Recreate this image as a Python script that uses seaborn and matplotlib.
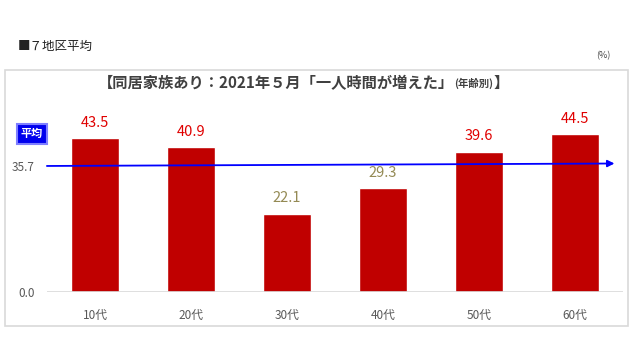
import matplotlib
matplotlib.use("Agg")
import matplotlib.pyplot as plt
import seaborn as sns
import pandas as pd
from matplotlib.patches import Rectangle

categories = ["10代", "20代", "30代", "40代", "50代", "60代"]
values = [43.5, 40.9, 22.1, 29.3, 39.6, 44.5]
average = 35.7
title_main = "【同居家族あり：2021年５月「一人時間が増えた」"
title_sub = "(年齢別)"
title_end = "】"
header = "■７地区平均"

sns.set_theme(style="white")
plt.rcParams['font.family'] = ['Noto Sans CJK JP', 'DejaVu Sans']

df = pd.DataFrame({"age": categories, "value": values})

fig = plt.figure(figsize=(6.4, 3.6), dpi=100)
ax = fig.add_axes([47/640, 68/360, 576/640, 177/360])

# outer frame
fig.patches.append(Rectangle((5/640, 34/360), 623/640, 256/360, transform=fig.transFigure,
                             fill=False, edgecolor="#d9d9d9", linewidth=1.2, zorder=0))

sns.barplot(data=df, x="age", y="value", color="#C00000", width=0.5, saturation=1, ax=ax)

ax.set_xlim(-0.5, 5.5)
ax.set_ylim(0, 50)
for s in ax.spines.values():
    s.set_visible(False)
ax.axhline(0, color="#d9d9d9", linewidth=1.2, zorder=1)
ax.set_xlabel("")
ax.set_ylabel("")
ax.set_yticks([0, average])
ax.set_yticklabels(["0.0", f"{average}"])
ax.tick_params(axis="y", length=0, pad=9, labelsize=8.5, labelcolor="#595959")
ax.tick_params(axis="x", length=0, pad=12, labelsize=8.5, labelcolor="#595959")

for i, v in enumerate(values):
    col = "#E00000" if v >= average else "#948A54"
    ax.annotate(f"{v}", (i, v), xytext=(0, 6), textcoords="offset points",
                ha="center", va="bottom", fontsize=10.5, color=col)

# average arrow
ax.annotate("", xy=(5.44, average + 0.6), xytext=(-0.53, average - 0.1),
            arrowprops=dict(arrowstyle="-|>", color="#0000FF", lw=1.3, mutation_scale=10),
            annotation_clip=False, zorder=5)

# "平均" badge
fig.text(32/640, 1 - 134/360, "平均", ha="center", va="center", fontsize=8,
         color="white", fontweight="bold",
         bbox=dict(boxstyle="square,pad=0.35", facecolor="#0000EE", edgecolor="#7f7fff",
                   linewidth=1.5))

# header
fig.text(18/640, 1 - 46/360, header, ha="left", va="center", fontsize=9, color="#222222")
fig.text(596/640, 1 - 56/360, "(%)", ha="left", va="center", fontsize=6.5, color="#444444")

# title
t1 = fig.text(98/640, 1 - 83/360, title_main, ha="left", va="center", fontsize=11,
              fontweight="bold", color="#404040")
t2 = ax.annotate(title_sub, xy=(1, 0.5), xycoords=t1, ha="left", va="center",
                 fontsize=7.5, fontweight="bold", color="#404040")
t3 = ax.annotate(title_end, xy=(1, 0.5), xycoords=t2, ha="left", va="center",
                 fontsize=11, fontweight="bold", color="#404040")

fig.savefig("out.png", dpi=100)
